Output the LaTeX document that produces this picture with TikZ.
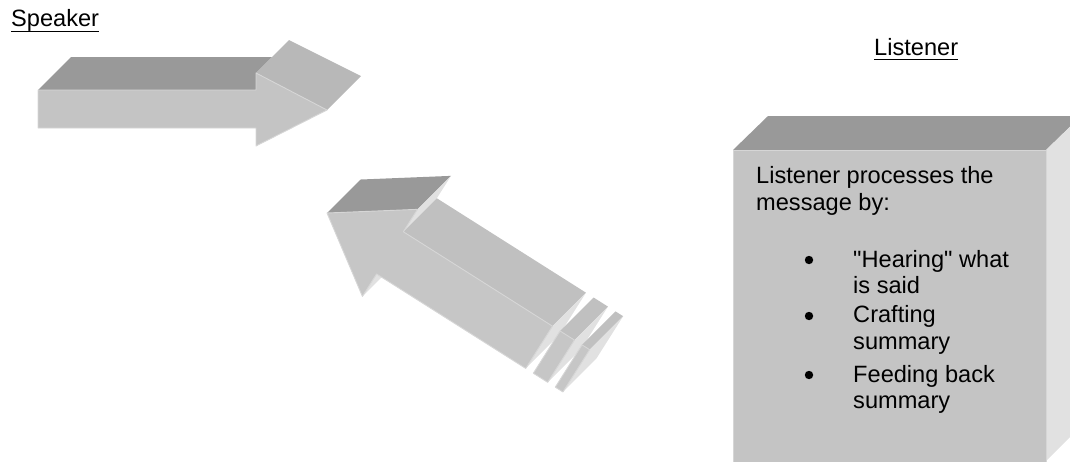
\documentclass[tikz,border=0pt]{standalone}
\usepackage{fontspec}
\setmainfont{Liberation Sans}[Ligatures=TeXOff]
\definecolor{frontgray}{HTML}{C4C4C4}
\definecolor{frontgrayB}{HTML}{C6C6C6}
\definecolor{topdark}{HTML}{999999}
\definecolor{topmid}{HTML}{B8B8B8}
\definecolor{topshaft}{HTML}{C0C0C0}
\definecolor{sidelight}{HTML}{E1E1E1}
\definecolor{edgelight}{HTML}{D6D6D6}
\begin{document}
\begin{tikzpicture}[x=1pt,y=-1pt,
  frontface/.style={fill=frontgray,draw=edgelight,line width=0.9pt,line join=round},
  frontfaceB/.style={fill=frontgrayB,draw=edgelight,line width=0.9pt,line join=round},
  darkface/.style={fill=topdark},
  midface/.style={fill=topmid},
  shaftface/.style={fill=topshaft},
  lightface/.style={fill=sidelight},
  lbl/.style={inner sep=0pt,anchor=base west,font=\fontsize{23.6}{28}\selectfont},
  bul/.style={circle,fill=black,inner sep=0pt,minimum size=8.4pt},
  uline/.style={line width=1.5pt},
]
\useasboundingbox (0,0) rectangle (1070,461);
\clip (0,0) rectangle (1070,461);

% ---------- labels ----------
\node[lbl] (speaker) at (11,26) {Speaker};
\draw[uline] ([yshift=-5.5pt]speaker.base west) -- ([yshift=-5.5pt]speaker.base east);
\node[lbl] (listener) at (874,55) {Listener};
\draw[uline] ([yshift=-4.3pt]listener.base west) -- ([yshift=-4.3pt]listener.base east);

% ---------- top arrow (Speaker -> Listener) ----------
\fill[darkface] (38,90) -- (71,57) -- (272,57) -- (256,73) -- (256,90) -- cycle;
\fill[midface] (256,73) -- (289,40) -- (361,76) -- (327,110) -- cycle;
\path[frontface] (38,90) -- (256,90) -- (256,73) -- (327,110) -- (256,146) -- (256,128) -- (38,128) -- cycle;

% ---------- lower striped arrow (pointing back to Speaker) ----------
\begin{scope}[shift={(327,213)},x={(0.845pt,-0.535pt)},y={(0.535pt,0.845pt)}]
  % head faces
  \fill[lightface] (74.5,-51.5) -- (74.5,-25) -- (84.9,21.2) -- (84.9,-5.3) -- cycle;
  \fill[darkface] (0,0) -- (74.5,51.5) -- (84.9,97.7) -- (10.4,46.2) -- cycle;
  \fill[lightface] (74.5,51.5) -- (74.5,25) -- (84.9,71.2) -- (84.9,97.7) -- cycle;
  % shaft faces
  \fill[shaftface] (74.5,25) -- (251,25) -- (261.4,71.2) -- (84.9,71.2) -- cycle;
  \fill[lightface] (251,-25) -- (251,25) -- (261.4,71.2) -- (261.4,21.2) -- cycle;
  \path[frontfaceB] (0,0) -- (74.5,51.5) -- (74.5,25) -- (251,25) -- (251,-25) -- (74.5,-25) -- (74.5,-51.5) -- cycle;
  % stripe 1
  \fill[shaftface] (260,25) -- (277,25) -- (287.4,71.2) -- (270.4,71.2) -- cycle;
  \fill[lightface] (277,-25) -- (277,25) -- (287.4,71.2) -- (287.4,21.2) -- cycle;
  \path[frontfaceB] (260,-25) -- (277,-25) -- (277,25) -- (260,25) -- cycle;
  % stripe 2
  \fill[shaftface] (286,25) -- (295,25) -- (305.4,71.2) -- (296.4,71.2) -- cycle;
  \fill[lightface] (295,-25) -- (295,25) -- (305.4,71.2) -- (305.4,21.2) -- cycle;
  \path[frontfaceB] (286,-25) -- (295,-25) -- (295,25) -- (286,25) -- cycle;
\end{scope}

% ---------- listener box ----------
\fill[darkface] (733,150) -- (768,116) -- (1081,116) -- (1046,150) -- cycle;
\fill[lightface] (1046,150) -- (1081,116) -- (1081,426) -- (1046,461) -- (1046,470) -- cycle;
\path[frontface] (733,150) -- (1046,150) -- (1046,470) -- (733,470) -- cycle;

\node[lbl] (t1) at (756,183) {Listener processes the};
\node[lbl] (t2) at (756,210) {message by:};
\node[bul] (b1) at (809,260) {};
\node[lbl] (t3) at (853,267) {"Hearing" what};
\node[lbl] (t4) at (853,293) {is said};
\node[bul] (b2) at (809,316) {};
\node[lbl] (t5) at (853,322) {Crafting};
\node[lbl] (t6) at (853,349) {summary};
\node[bul] (b3) at (809,375) {};
\node[lbl] (t7) at (853,382) {Feeding back};
\node[lbl] (t8) at (853,408) {summary};
\end{tikzpicture}
\end{document}
